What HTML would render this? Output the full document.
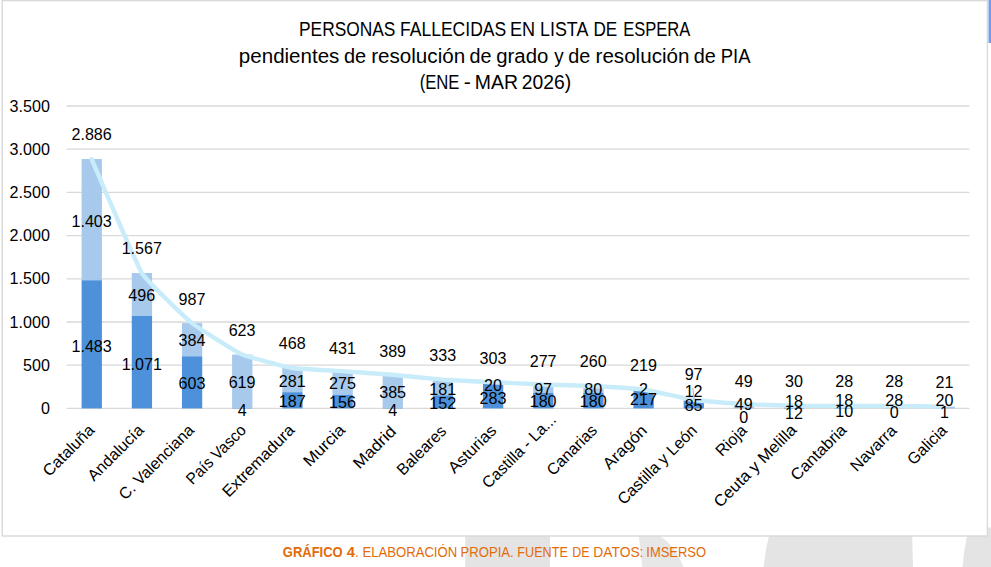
<!DOCTYPE html>
<html><head><meta charset="utf-8"><title>Gráfico 4</title>
<style>
html,body{margin:0;padding:0;background:#fff;}
body{width:991px;height:567px;overflow:hidden;font-family:"Liberation Sans",sans-serif;}
svg{display:block;}
svg text{font-family:"Liberation Sans",sans-serif;fill:#000;}
</style></head><body>
<svg width="991" height="567" viewBox="0 0 991 567">
<rect x="0" y="0" width="991" height="567" fill="#ffffff"/>
<rect x="465.2" y="530" width="84.8" height="40" fill="#e4e4e4"/>
<path d="M638.2 530 L650 530 L660.4 536.5 C668 541 677 550 683.5 567 L642.2 567 Z" fill="#e7e7e7"/>
<path d="M770.3 530 Q765.5 548 763.6 567 L913 567 L912 530 Z" fill="#e4e4e4"/>
<path d="M969 527.5 Q964 548 962.5 567 L991 567 L991 527.5 Z" fill="#e4e4e4"/>
<rect x="988.5" y="0" width="3" height="43" fill="#6f9cf0"/>
<rect x="2.2" y="0.6" width="985.2" height="535.4" fill="#ffffff" stroke="#d9d9d9" stroke-width="1.4"/>
<line x1="66.5" y1="408.40" x2="969.5" y2="408.40" stroke="#d9d9d9" stroke-width="1.3"/>
<line x1="66.5" y1="365.20" x2="969.5" y2="365.20" stroke="#d9d9d9" stroke-width="1.3"/>
<line x1="66.5" y1="322.00" x2="969.5" y2="322.00" stroke="#d9d9d9" stroke-width="1.3"/>
<line x1="66.5" y1="278.80" x2="969.5" y2="278.80" stroke="#d9d9d9" stroke-width="1.3"/>
<line x1="66.5" y1="235.60" x2="969.5" y2="235.60" stroke="#d9d9d9" stroke-width="1.3"/>
<line x1="66.5" y1="192.40" x2="969.5" y2="192.40" stroke="#d9d9d9" stroke-width="1.3"/>
<line x1="66.5" y1="149.20" x2="969.5" y2="149.20" stroke="#d9d9d9" stroke-width="1.3"/>
<line x1="66.5" y1="106.00" x2="969.5" y2="106.00" stroke="#d9d9d9" stroke-width="1.3"/>
<text x="49.9" y="414.00" font-size="16.1" text-anchor="end">0</text>
<text x="49.9" y="370.80" font-size="16.1" text-anchor="end">500</text>
<text x="49.9" y="327.60" font-size="16.1" text-anchor="end">1.000</text>
<text x="49.9" y="284.40" font-size="16.1" text-anchor="end">1.500</text>
<text x="49.9" y="241.20" font-size="16.1" text-anchor="end">2.000</text>
<text x="49.9" y="198.00" font-size="16.1" text-anchor="end">2.500</text>
<text x="49.9" y="154.80" font-size="16.1" text-anchor="end">3.000</text>
<text x="49.9" y="111.60" font-size="16.1" text-anchor="end">3.500</text>
<rect x="81.60" y="159.05" width="20.3" height="121.22" fill="#a6c9ec"/>
<rect x="81.60" y="280.27" width="20.3" height="128.13" fill="#4d91da"/>
<rect x="131.77" y="273.01" width="20.3" height="42.85" fill="#a6c9ec"/>
<rect x="131.77" y="315.87" width="20.3" height="92.53" fill="#4d91da"/>
<rect x="181.94" y="323.12" width="20.3" height="33.18" fill="#a6c9ec"/>
<rect x="181.94" y="356.30" width="20.3" height="52.10" fill="#4d91da"/>
<rect x="232.11" y="354.57" width="20.3" height="53.48" fill="#a6c9ec"/>
<rect x="232.11" y="408.05" width="20.3" height="0.35" fill="#4d91da"/>
<rect x="282.28" y="367.96" width="20.3" height="24.28" fill="#a6c9ec"/>
<rect x="282.28" y="392.24" width="20.3" height="16.16" fill="#4d91da"/>
<rect x="332.45" y="371.16" width="20.3" height="23.76" fill="#a6c9ec"/>
<rect x="332.45" y="394.92" width="20.3" height="13.48" fill="#4d91da"/>
<rect x="382.62" y="374.79" width="20.3" height="33.26" fill="#a6c9ec"/>
<rect x="382.62" y="408.05" width="20.3" height="0.35" fill="#4d91da"/>
<rect x="432.79" y="379.63" width="20.3" height="15.64" fill="#a6c9ec"/>
<rect x="432.79" y="395.27" width="20.3" height="13.13" fill="#4d91da"/>
<rect x="482.96" y="382.22" width="20.3" height="1.73" fill="#a6c9ec"/>
<rect x="482.96" y="383.95" width="20.3" height="24.45" fill="#4d91da"/>
<rect x="533.13" y="384.47" width="20.3" height="8.38" fill="#a6c9ec"/>
<rect x="533.13" y="392.85" width="20.3" height="15.55" fill="#4d91da"/>
<rect x="583.30" y="385.94" width="20.3" height="6.91" fill="#a6c9ec"/>
<rect x="583.30" y="392.85" width="20.3" height="15.55" fill="#4d91da"/>
<rect x="633.47" y="389.48" width="20.3" height="0.17" fill="#a6c9ec"/>
<rect x="633.47" y="389.65" width="20.3" height="18.75" fill="#4d91da"/>
<rect x="683.64" y="400.02" width="20.3" height="1.04" fill="#a6c9ec"/>
<rect x="683.64" y="401.06" width="20.3" height="7.34" fill="#4d91da"/>
<rect x="733.81" y="404.17" width="20.3" height="4.23" fill="#a6c9ec"/>
<rect x="783.98" y="405.81" width="20.3" height="1.56" fill="#a6c9ec"/>
<rect x="783.98" y="407.36" width="20.3" height="1.04" fill="#4d91da"/>
<rect x="834.15" y="405.98" width="20.3" height="1.56" fill="#a6c9ec"/>
<rect x="834.15" y="407.54" width="20.3" height="0.86" fill="#4d91da"/>
<rect x="884.32" y="405.98" width="20.3" height="2.42" fill="#a6c9ec"/>
<rect x="934.49" y="406.59" width="20.3" height="1.73" fill="#a6c9ec"/>
<rect x="934.49" y="408.31" width="20.3" height="0.09" fill="#4d91da"/>
<path d="M91.60 159.05 C94.11 164.75 136.75 264.81 141.77 273.01 C146.79 281.21 186.92 319.05 191.94 323.12 C196.96 327.20 237.09 352.33 242.11 354.57 C247.13 356.81 287.26 367.14 292.28 367.96 C297.30 368.79 337.43 370.82 342.45 371.16 C347.47 371.50 387.60 374.37 392.62 374.79 C397.64 375.21 437.77 379.26 442.79 379.63 C447.81 380.00 487.94 381.98 492.96 382.22 C497.98 382.46 538.11 384.28 543.13 384.47 C548.15 384.65 588.28 385.69 593.30 385.94 C598.32 386.19 638.45 388.77 643.47 389.48 C648.49 390.18 688.62 399.28 693.64 400.02 C698.66 400.75 738.79 403.88 743.81 404.17 C748.83 404.46 788.96 405.72 793.98 405.81 C799.00 405.90 839.13 405.97 844.15 405.98 C849.17 405.99 889.30 405.95 894.32 405.98 C899.34 406.01 941.98 406.56 944.49 406.59" fill="none" stroke="#c9ecfa" stroke-width="4.4" stroke-linecap="round" stroke-linejoin="round"/>
<text x="91.60" y="140.25" font-size="16.1" text-anchor="middle">2.886</text>
<text x="91.60" y="226.95" font-size="16.1" text-anchor="middle">1.403</text>
<text x="91.60" y="351.95" font-size="16.1" text-anchor="middle">1.483</text>
<text x="141.77" y="254.35" font-size="16.1" text-anchor="middle">1.567</text>
<text x="141.77" y="301.25" font-size="16.1" text-anchor="middle">496</text>
<text x="141.77" y="369.75" font-size="16.1" text-anchor="middle">1.071</text>
<text x="191.94" y="305.15" font-size="16.1" text-anchor="middle">987</text>
<text x="191.94" y="346.15" font-size="16.1" text-anchor="middle">384</text>
<text x="191.94" y="389.05" font-size="16.1" text-anchor="middle">603</text>
<text x="242.11" y="336.45" font-size="16.1" text-anchor="middle">623</text>
<text x="242.11" y="388.45" font-size="16.1" text-anchor="middle">619</text>
<text x="242.11" y="415.55" font-size="16.1" text-anchor="middle">4</text>
<text x="292.28" y="349.35" font-size="16.1" text-anchor="middle">468</text>
<text x="292.28" y="387.45" font-size="16.1" text-anchor="middle">281</text>
<text x="292.28" y="407.45" font-size="16.1" text-anchor="middle">187</text>
<text x="342.45" y="353.55" font-size="16.1" text-anchor="middle">431</text>
<text x="342.45" y="389.35" font-size="16.1" text-anchor="middle">275</text>
<text x="342.45" y="408.15" font-size="16.1" text-anchor="middle">156</text>
<text x="392.62" y="356.75" font-size="16.1" text-anchor="middle">389</text>
<text x="392.62" y="398.05" font-size="16.1" text-anchor="middle">385</text>
<text x="392.62" y="415.55" font-size="16.1" text-anchor="middle">4</text>
<text x="442.79" y="360.95" font-size="16.1" text-anchor="middle">333</text>
<text x="442.79" y="394.55" font-size="16.1" text-anchor="middle">181</text>
<text x="442.79" y="408.75" font-size="16.1" text-anchor="middle">152</text>
<text x="492.96" y="364.45" font-size="16.1" text-anchor="middle">303</text>
<text x="492.96" y="390.65" font-size="16.1" text-anchor="middle">20</text>
<text x="492.96" y="403.55" font-size="16.1" text-anchor="middle">283</text>
<text x="543.13" y="366.75" font-size="16.1" text-anchor="middle">277</text>
<text x="543.13" y="394.85" font-size="16.1" text-anchor="middle">97</text>
<text x="543.13" y="407.15" font-size="16.1" text-anchor="middle">180</text>
<text x="593.30" y="367.05" font-size="16.1" text-anchor="middle">260</text>
<text x="593.30" y="395.45" font-size="16.1" text-anchor="middle">80</text>
<text x="593.30" y="407.15" font-size="16.1" text-anchor="middle">180</text>
<text x="643.47" y="370.95" font-size="16.1" text-anchor="middle">219</text>
<text x="643.47" y="394.85" font-size="16.1" text-anchor="middle">2</text>
<text x="643.47" y="405.15" font-size="16.1" text-anchor="middle">217</text>
<text x="693.64" y="379.95" font-size="16.1" text-anchor="middle">97</text>
<text x="693.64" y="397.05" font-size="16.1" text-anchor="middle">12</text>
<text x="693.64" y="411.25" font-size="16.1" text-anchor="middle">85</text>
<text x="743.81" y="386.75" font-size="16.1" text-anchor="middle">49</text>
<text x="743.81" y="409.95" font-size="16.1" text-anchor="middle">49</text>
<text x="743.81" y="422.55" font-size="16.1" text-anchor="middle">0</text>
<text x="793.98" y="387.35" font-size="16.1" text-anchor="middle">30</text>
<text x="793.98" y="406.75" font-size="16.1" text-anchor="middle">18</text>
<text x="793.98" y="419.35" font-size="16.1" text-anchor="middle">12</text>
<text x="844.15" y="387.35" font-size="16.1" text-anchor="middle">28</text>
<text x="844.15" y="406.45" font-size="16.1" text-anchor="middle">18</text>
<text x="844.15" y="417.05" font-size="16.1" text-anchor="middle">10</text>
<text x="894.32" y="387.35" font-size="16.1" text-anchor="middle">28</text>
<text x="894.32" y="406.15" font-size="16.1" text-anchor="middle">28</text>
<text x="894.32" y="418.05" font-size="16.1" text-anchor="middle">0</text>
<text x="944.49" y="388.35" font-size="16.1" text-anchor="middle">21</text>
<text x="944.49" y="406.45" font-size="16.1" text-anchor="middle">20</text>
<text x="944.49" y="417.75" font-size="16.1" text-anchor="middle">1</text>
<line x1="692.8" y1="388" x2="694.2" y2="400" stroke="#a6a6a6" stroke-width="0.9"/>
<text transform="translate(95.40 431.10) rotate(-45)" font-size="16.1" text-anchor="end" textLength="65.41" lengthAdjust="spacingAndGlyphs">Cataluña</text>
<text transform="translate(144.80 431.10) rotate(-45)" font-size="16.1" text-anchor="end" textLength="71.85" lengthAdjust="spacingAndGlyphs">Andalucía</text>
<text transform="translate(195.00 431.10) rotate(-45)" font-size="16.1" text-anchor="end" textLength="98.57" lengthAdjust="spacingAndGlyphs">C. Valenciana</text>
<text transform="translate(247.00 431.10) rotate(-45)" font-size="16.1" text-anchor="end" textLength="76.94" lengthAdjust="spacingAndGlyphs">País Vasco</text>
<text transform="translate(295.60 431.10) rotate(-45)" font-size="16.1" text-anchor="end" textLength="94.52" lengthAdjust="spacingAndGlyphs">Extremadura</text>
<text transform="translate(346.00 431.10) rotate(-45)" font-size="16.1" text-anchor="end" textLength="51.39" lengthAdjust="spacingAndGlyphs">Murcia</text>
<text transform="translate(397.00 432.30) rotate(-45)" font-size="16.1" text-anchor="end" textLength="53.00" lengthAdjust="spacingAndGlyphs">Madrid</text>
<text transform="translate(447.40 432.10) rotate(-45)" font-size="16.1" text-anchor="end" textLength="62.38" lengthAdjust="spacingAndGlyphs">Baleares</text>
<text transform="translate(497.40 431.50) rotate(-45)" font-size="16.1" text-anchor="end" textLength="60.52" lengthAdjust="spacingAndGlyphs">Asturias</text>
<text transform="translate(557.20 420.70) rotate(-45)" font-size="16.1" text-anchor="end" textLength="97.00" lengthAdjust="spacingAndGlyphs">Castilla - La...</text>
<text transform="translate(598.20 431.50) rotate(-45)" font-size="16.1" text-anchor="end" textLength="63.62" lengthAdjust="spacingAndGlyphs">Canarias</text>
<text transform="translate(648.00 431.50) rotate(-45)" font-size="16.1" text-anchor="end" textLength="54.64" lengthAdjust="spacingAndGlyphs">Aragón</text>
<text transform="translate(698.00 431.50) rotate(-45)" font-size="16.1" text-anchor="end" textLength="104.76" lengthAdjust="spacingAndGlyphs">Castilla y León</text>
<text transform="translate(747.80 431.50) rotate(-45)" font-size="16.1" text-anchor="end" textLength="36.59" lengthAdjust="spacingAndGlyphs">Rioja</text>
<text transform="translate(797.60 430.90) rotate(-45)" font-size="16.1" text-anchor="end" textLength="109.34" lengthAdjust="spacingAndGlyphs">Ceuta y Melilla</text>
<text transform="translate(847.60 430.90) rotate(-45)" font-size="16.1" text-anchor="end" textLength="71.47" lengthAdjust="spacingAndGlyphs">Cantabria</text>
<text transform="translate(897.60 431.50) rotate(-45)" font-size="16.1" text-anchor="end" textLength="57.86" lengthAdjust="spacingAndGlyphs">Navarra</text>
<text transform="translate(948.00 431.50) rotate(-45)" font-size="16.1" text-anchor="end" textLength="48.40" lengthAdjust="spacingAndGlyphs">Galicia</text>
<text x="299.00" y="36.00" font-size="19.5" textLength="96.41" lengthAdjust="spacingAndGlyphs">PERSONAS</text>
<text x="400.05" y="36.00" font-size="19.5" textLength="106.11" lengthAdjust="spacingAndGlyphs">FALLECIDAS</text>
<text x="509.93" y="36.00" font-size="19.5" textLength="25.14" lengthAdjust="spacingAndGlyphs">EN</text>
<text x="540.01" y="36.00" font-size="19.5" textLength="48.34" lengthAdjust="spacingAndGlyphs">LISTA</text>
<text x="593.40" y="36.00" font-size="19.5" textLength="23.86" lengthAdjust="spacingAndGlyphs">DE</text>
<text x="623.21" y="36.00" font-size="19.5" textLength="67.14" lengthAdjust="spacingAndGlyphs">ESPERA</text>
<text x="238.85" y="62.90" font-size="19.5" textLength="100.55" lengthAdjust="spacingAndGlyphs">pendientes</text>
<text x="343.91" y="62.90" font-size="19.5" textLength="22.23" lengthAdjust="spacingAndGlyphs">de</text>
<text x="371.19" y="62.90" font-size="19.5" textLength="93.98" lengthAdjust="spacingAndGlyphs">resolución</text>
<text x="469.41" y="62.90" font-size="19.5" textLength="22.02" lengthAdjust="spacingAndGlyphs">de</text>
<text x="496.20" y="62.90" font-size="19.5" textLength="52.10" lengthAdjust="spacingAndGlyphs">grado</text>
<text x="554.13" y="62.90" font-size="19.5" textLength="9.40" lengthAdjust="spacingAndGlyphs">y</text>
<text x="568.26" y="62.90" font-size="19.5" textLength="22.02" lengthAdjust="spacingAndGlyphs">de</text>
<text x="595.54" y="62.90" font-size="19.5" textLength="93.92" lengthAdjust="spacingAndGlyphs">resolución</text>
<text x="693.71" y="62.90" font-size="19.5" textLength="22.09" lengthAdjust="spacingAndGlyphs">de</text>
<text x="720.81" y="62.90" font-size="19.5" textLength="29.74" lengthAdjust="spacingAndGlyphs">PIA</text>
<text x="419.65" y="88.90" font-size="19.5" textLength="39.80" lengthAdjust="spacingAndGlyphs">(ENE</text>
<text x="463.66" y="88.90" font-size="19.5" textLength="7.14" lengthAdjust="spacingAndGlyphs">-</text>
<text x="474.83" y="88.90" font-size="19.5" textLength="43.18" lengthAdjust="spacingAndGlyphs">MAR</text>
<text x="521.85" y="88.90" font-size="19.5" textLength="49.41" lengthAdjust="spacingAndGlyphs">2026)</text>
<text x="282.86" y="556.9" font-size="14.0" font-weight="bold" textLength="59.83" lengthAdjust="spacingAndGlyphs" style="fill:#e36c09">GRÁFICO</text>
<text x="346.79" y="556.9" font-size="14.0" font-weight="bold" textLength="8.24" lengthAdjust="spacingAndGlyphs" style="fill:#e36c09">4</text>
<text x="355.10" y="556.9" font-size="14.0" font-weight="normal" textLength="102.11" lengthAdjust="spacingAndGlyphs" style="fill:#e36c09">. ELABORACIÓN</text>
<text x="460.59" y="556.9" font-size="14.0" font-weight="normal" textLength="53.17" lengthAdjust="spacingAndGlyphs" style="fill:#e36c09">PROPIA.</text>
<text x="517.36" y="556.9" font-size="14.0" font-weight="normal" textLength="50.49" lengthAdjust="spacingAndGlyphs" style="fill:#e36c09">FUENTE</text>
<text x="572.31" y="556.9" font-size="14.0" font-weight="normal" textLength="17.23" lengthAdjust="spacingAndGlyphs" style="fill:#e36c09">DE</text>
<text x="593.29" y="556.9" font-size="14.0" font-weight="normal" textLength="50.17" lengthAdjust="spacingAndGlyphs" style="fill:#e36c09">DATOS:</text>
<text x="646.30" y="556.9" font-size="14.0" font-weight="normal" textLength="59.80" lengthAdjust="spacingAndGlyphs" style="fill:#e36c09">IMSERSO</text>
</svg>
</body></html>
